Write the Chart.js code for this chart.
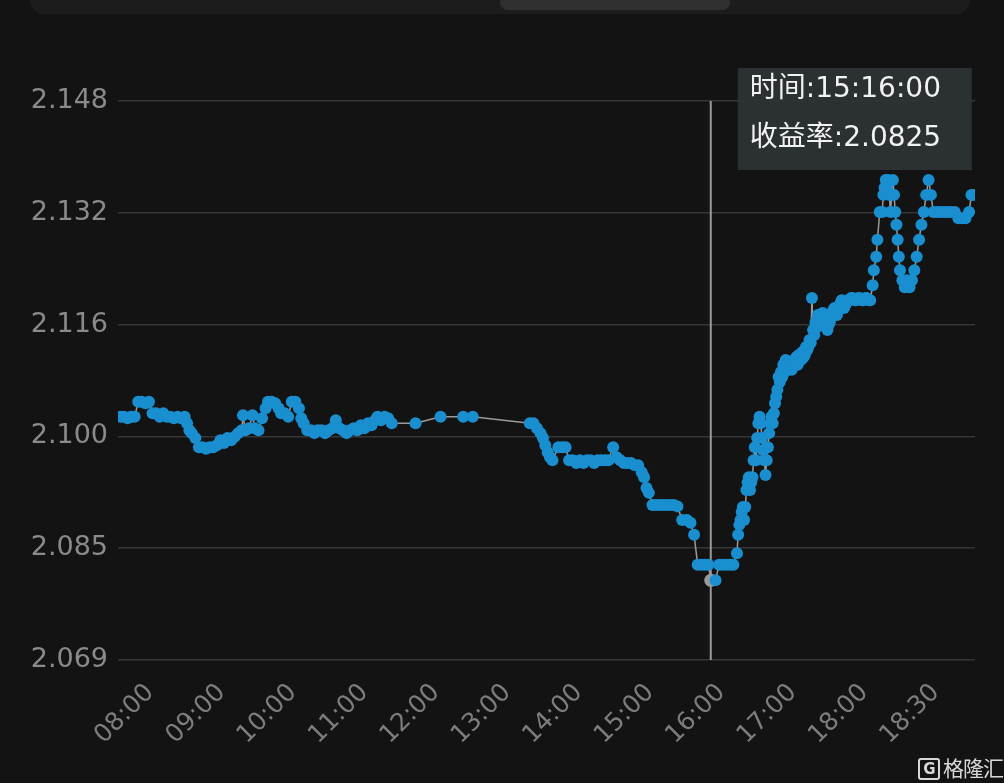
<!DOCTYPE html>
<html>
<head>
<meta charset="utf-8">
<script src="https://cdn.jsdelivr.net/npm/chart.js@4.4.1/dist/chart.umd.min.js"></script>
<style>
  html, body { margin: 0; padding: 0; background: #131313; overflow: hidden; }
  #wrap { position: relative; width: 1004px; height: 783px; }
  #panel { position: absolute; left: 30px; top: -20px; width: 940px; height: 34px; background: #1c1c1c; border-radius: 14px; }
  #tab { position: absolute; left: 500px; top: -12px; width: 230px; height: 22px; background: #303030; border-radius: 8px; }
  #mark { position: absolute; left: 918px; top: 752px; color: #d8d8d8; font: 21px "Noto Sans CJK SC", sans-serif; letter-spacing: -1px; }
  #mark b { display: inline-block; border: 2px solid #d8d8d8; border-radius: 3px; font: bold 15px "DejaVu Sans"; line-height: 18px; width: 18px; text-align: center; margin-right: 3px; vertical-align: 2px; }
  canvas { position: absolute; left: 0; top: 0; }
</style>
</head>
<body>
<div id="wrap">
  <div id="panel"></div>
  <div id="tab"></div>
  <canvas id="chart" width="1004" height="783"></canvas>
  <div id="mark"><b>G</b>格隆汇</div>
</div>
<script>
// x labels and where they sit on the time scale (minutes from first sample)
const timeLabels = ["08:00", "09:00", "10:00", "11:00", "12:00", "13:00", "14:00", "15:00", "16:00", "17:00", "18:00", "18:30"];
const labelAt = [27, 87, 147, 207, 267, 327, 387, 447, 507, 567, 627, 687];

const yTicks = [2.069, 2.08472, 2.10044, 2.11616, 2.13188, 2.1476];

// series: sample time (minutes) and yield
const times = [
  2, 5, 8, 11, 14, 17, 20, 23, 26, 29, 32, 35, 38, 41, 44, 47, 50, 53, 56, 58,
  60, 62, 65, 68, 71, 74, 77, 80, 83, 86, 89, 92, 95, 98, 101, 104, 105, 107, 110, 113,
  115, 118, 121, 124, 126, 129, 132, 135, 137, 140, 143, 146, 149, 152, 154, 156, 159, 162, 165, 168,
  171, 174, 177, 180, 183, 186, 189, 192, 195, 198, 201, 204, 207, 210, 213, 216, 218, 221, 224, 227,
  230, 250, 271, 290, 298, 346,
  349, 352, 355, 357, 359, 361, 363, 365, 370, 373, 376, 379, 382, 385, 388, 391, 394, 397, 400, 403,
  406, 409, 412, 416, 419, 422, 425, 428, 431, 434, 437, 440, 442, 444, 446, 449, 452, 455, 458, 461,
  464, 467, 470, 474, 478, 481, 484, 487, 490, 493, 496, 498, 502, 505, 508, 511, 514, 517,
  520, 521, 522, 523, 524, 525, 526, 527, 528, 529, 530, 531, 532, 533, 534, 535, 536, 537, 538, 539,
  540, 541, 542, 543, 544, 545, 546, 547, 548, 549, 550, 551, 552, 553, 554, 555, 556, 557, 558, 559,
  560, 561, 562, 563, 564, 565, 566, 567, 568, 569, 570, 571, 572, 573, 574, 575, 576, 577, 578, 579,
  580, 581, 582, 583, 584, 585, 586, 587, 588, 589, 590, 591, 592, 593, 594, 595, 596, 597, 598, 599,
  600, 601, 602, 603, 604, 605, 606, 607, 608, 609, 610, 611, 612, 613, 614, 616, 617, 619, 620, 622,
  623, 625, 626, 628, 629, 631, 632, 634, 635, 637, 638, 640, 642, 643, 644, 645, 646, 647, 648, 649,
  650, 651, 652, 653, 654, 655, 656, 657, 659, 661, 663, 665, 667, 669, 671, 673, 675, 677, 679, 681,
  683, 685, 688, 691, 694, 697, 700, 703, 706, 709, 712, 715, 717, 720
];
const yields = [
  2.1032, 2.1032, 2.1030, 2.1032, 2.1032, 2.1053, 2.1053, 2.1051, 2.1053, 2.1037, 2.1037, 2.1032, 2.1037, 2.1032, 2.1032, 2.1030, 2.1032, 2.1030, 2.1032, 2.1023,
  2.1013, 2.1009, 2.1002, 2.0989, 2.0989, 2.0987, 2.0989, 2.0989, 2.0992, 2.0999, 2.0995, 2.1002, 2.0999, 2.1004, 2.1009, 2.1013, 2.1034, 2.1013, 2.1016, 2.1034,
  2.1016, 2.1013, 2.1030, 2.1044, 2.1053, 2.1053, 2.1051, 2.1044, 2.1037, 2.1037, 2.1032, 2.1053, 2.1053, 2.1044, 2.1030, 2.1023, 2.1013, 2.1013, 2.1009, 2.1013,
  2.1013, 2.1009, 2.1013, 2.1016, 2.1027, 2.1016, 2.1013, 2.1009, 2.1013, 2.1016, 2.1013, 2.1020, 2.1016, 2.1023, 2.1020, 2.1027, 2.1032, 2.1027, 2.1032, 2.1030,
  2.1023, 2.1023, 2.1032, 2.1032, 2.1032, 2.1023,
  2.1023, 2.1016, 2.1009, 2.1002, 2.0992, 2.0982, 2.0975, 2.0971, 2.0989, 2.0989, 2.0989, 2.0971, 2.0971, 2.0967, 2.0971, 2.0967, 2.0971, 2.0971, 2.0967, 2.0971,
  2.0971, 2.0971, 2.0971, 2.0989, 2.0975, 2.0971, 2.0967, 2.0967, 2.0967, 2.0964, 2.0964, 2.0954, 2.0947, 2.0932, 2.0925, 2.0908, 2.0908, 2.0908, 2.0908, 2.0908,
  2.0908, 2.0908, 2.0906, 2.0887, 2.0887, 2.0883, 2.0866, 2.0824, 2.0824, 2.0824, 2.0824, 2.0802, 2.0802, 2.0824, 2.0824, 2.0824, 2.0824, 2.0824,
  2.0840, 2.0866, 2.0880, 2.0887, 2.0898, 2.0905, 2.0887, 2.0905, 2.0929, 2.0940, 2.0947, 2.0929, 2.0940, 2.0947, 2.0971, 2.0989, 2.0971, 2.1002, 2.1023, 2.1032,
  2.1023, 2.1002, 2.0985, 2.0971, 2.0950, 2.0971, 2.0989, 2.1009, 2.1023, 2.1032, 2.1023, 2.1037, 2.1051, 2.1060, 2.1070, 2.1088, 2.1081, 2.1095, 2.1088, 2.1105,
  2.1095, 2.1112, 2.1102, 2.1098, 2.1109, 2.1105, 2.1098, 2.1109, 2.1112, 2.1105, 2.1116, 2.1105, 2.1119, 2.1112, 2.1112, 2.1123, 2.1116, 2.1119, 2.1130, 2.1126,
  2.1130, 2.1140, 2.1136, 2.1199, 2.1154, 2.1147, 2.1165, 2.1158, 2.1175, 2.1168, 2.1165, 2.1172, 2.1178, 2.1168, 2.1165, 2.1158, 2.1154, 2.1161, 2.1165, 2.1172,
  2.1178, 2.1182, 2.1185, 2.1178, 2.1175, 2.1182, 2.1185, 2.1192, 2.1196, 2.1189, 2.1185, 2.1189, 2.1192, 2.1196, 2.1196, 2.1199, 2.1199, 2.1196, 2.1196, 2.1199,
  2.1199, 2.1196, 2.1196, 2.1199, 2.1199, 2.1196, 2.1196, 2.1217, 2.1238, 2.1257, 2.1281, 2.1320, 2.1320, 2.1344, 2.1354, 2.1365, 2.1354, 2.1365, 2.1344, 2.1320,
  2.1344, 2.1365, 2.1344, 2.1320, 2.1302, 2.1281, 2.1257, 2.1238, 2.1224, 2.1214, 2.1224, 2.1214, 2.1224, 2.1238, 2.1257, 2.1281, 2.1302, 2.1320, 2.1344, 2.1365,
  2.1344, 2.1320, 2.1320, 2.1320, 2.1320, 2.1320, 2.1320, 2.1320, 2.1311, 2.1311, 2.1311, 2.1320, 2.1344, 2.1344
];

// the sample picked by the crosshair and what its tooltip says
const pickedTime = 498;
const tipLines = ["时间:15:16:00", "收益率:2.0825"];

const BLUE = "#1a8fd0";
const GREY = "#9a9a9a";
const pickedIndex = times.indexOf(pickedTime);

const crosshair = {
  id: "crosshair",
  beforeDatasetsDraw(chart) {
    const { ctx, chartArea, scales } = chart;
    const x = scales.x.getPixelForValue(pickedTime);
    ctx.save();
    ctx.strokeStyle = GREY;
    ctx.lineWidth = 2;
    ctx.beginPath();
    ctx.moveTo(x, chartArea.top);
    ctx.lineTo(x, chartArea.bottom);
    ctx.stroke();
    ctx.restore();
  },
  afterDraw(chart) {
    const { ctx, chartArea, scales } = chart;
    const x = scales.x.getPixelForValue(pickedTime);
    const left = x + 27, top = chartArea.top - 33;
    ctx.save();
    ctx.fillStyle = "rgba(45, 50, 53, 0.96)";
    ctx.fillRect(left, top, 234, 102);
    ctx.fillStyle = "#f2f2f2";
    ctx.font = '28px "DejaVu Sans", "Noto Sans CJK SC"';
    ctx.textBaseline = "middle";
    ctx.fillText(tipLines[0], left + 12, top + 22);
    ctx.fillText(tipLines[1], left + 12, top + 71);
    ctx.restore();
  }
};

new Chart(document.getElementById("chart"), {
  type: "line",
  data: {
    datasets: [{
      data: times.map((t, i) => ({ x: t, y: yields[i] })),
      borderColor: GREY,
      borderWidth: 1.5,
      pointRadius: ctx => ctx.dataIndex === pickedIndex ? 6.5 : 6,
      pointBackgroundColor: ctx => ctx.dataIndex === pickedIndex ? GREY : BLUE,
      pointBorderWidth: 0,
      tension: 0
    }]
  },
  options: {
    responsive: false,
    animation: false,
    events: [],
    layout: { padding: { top: 101, right: 29, left: 0, bottom: 0 } },
    plugins: { legend: { display: false }, tooltip: { enabled: false } },
    scales: {
      x: {
        type: "linear",
        min: 0,
        max: 720,
        afterBuildTicks: s => { s.ticks = labelAt.map(v => ({ value: v })); },
        afterFit: s => { s.height = 123; s.paddingLeft = 0; s.paddingRight = 0; },
        ticks: {
          autoSkip: false,
          minRotation: 45,
          maxRotation: 45,
          padding: 10,
          color: "#7d7d7d",
          font: { family: "DejaVu Sans", size: 25 },
          callback: (v, i) => timeLabels[i]
        },
        grid: { display: false },
        border: { display: false }
      },
      y: {
        min: 2.069,
        max: 2.1476,
        afterBuildTicks: s => { s.ticks = yTicks.map(v => ({ value: v })); },
        afterFit: s => { s.width = 118; s.paddingTop = 0; s.paddingBottom = 0; },
        ticks: {
          padding: 10,
          color: "#8a8a8a",
          font: { family: "DejaVu Sans", size: 27 },
          callback: v => v.toFixed(3)
        },
        grid: { color: "#373737", lineWidth: 1.5, drawTicks: false },
        border: { display: false }
      }
    }
  },
  plugins: [crosshair]
});
</script>
</body>
</html>
